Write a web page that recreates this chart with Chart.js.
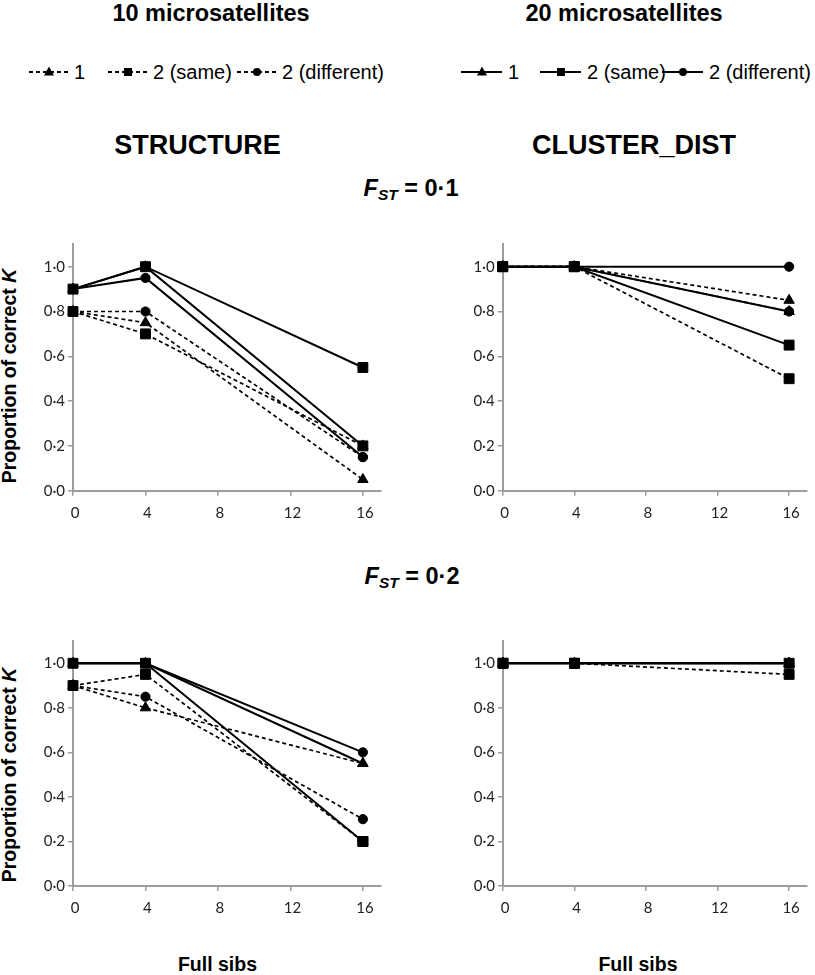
<!DOCTYPE html>
<html>
<head>
<meta charset="utf-8">
<script src="https://cdn.jsdelivr.net/npm/chart.js@4.4.1/dist/chart.umd.min.js"></script>
<style>
body{margin:0;background:#fff;font-family:"Liberation Sans",Arial,sans-serif;color:#000}
#page{position:relative;width:815px;height:975px;overflow:hidden}
.t{position:absolute;white-space:nowrap;line-height:1;transform:translate(-50%,-50%)}
.b{font-weight:bold}
.ytitle{transform:translate(-50%,-50%) rotate(-90deg);font-size:19.5px;font-weight:bold}
.fst{font-size:23.5px;font-weight:bold}
.fst sub{font-size:0.66em;vertical-align:-0.28em;font-style:italic}
canvas{position:absolute}
.item{position:absolute;top:72px;height:0;display:flex;align-items:center}
.samp{position:relative;height:2px}
.samp.dash{background:repeating-linear-gradient(90deg,#000 0 4px,transparent 4px 7px)}
.samp.solid{background:#000}
.mk{position:absolute;left:50%;top:50%;transform:translate(-50%,-50%);background:#000}
.mk.rect{width:8px;height:8px}
.mk.circle{width:8px;height:8px;border-radius:50%}
.mk.triangle{width:0;height:0;background:none;border-left:5px solid transparent;border-right:5px solid transparent;border-bottom:9px solid #000;transform:translate(-50%,-60%)}
.lab{font-size:20px;margin-left:6px;line-height:1;position:relative;top:0}
</style>
</head>
<body>
<div id="page">
  <div class="t b" style="left:211px;top:14px;font-size:23.5px">10 microsatellites</div>
  <div class="t b" style="left:624px;top:14px;font-size:23.5px">20 microsatellites</div>

  <div class="t b" style="left:197.5px;top:145px;font-size:27px">STRUCTURE</div>
  <div class="t b" style="left:634px;top:145px;font-size:27px">CLUSTER_DIST</div>

  <div class="t fst" style="left:411px;top:190px"><i>F</i><sub>ST</sub> = 0·1</div>
  <div class="t fst" style="left:412px;top:578px"><i>F</i><sub>ST</sub> = 0·2</div>

  <div class="t ytitle" style="left:10px;top:376px">Proportion of correct <i>K</i></div>
  <div class="t ytitle" style="left:10px;top:775px">Proportion of correct <i>K</i></div>

  <div class="t b" style="left:217.5px;top:965px;font-size:19.5px">Full sibs</div>
  <div class="t b" style="left:638px;top:965px;font-size:19.5px">Full sibs</div>

  <canvas id="tl" width="400" height="310" style="left:0;top:220px"></canvas>
  <canvas id="tr" width="405" height="310" style="left:410px;top:220px"></canvas>
  <canvas id="bl" width="400" height="310" style="left:0;top:620px"></canvas>
  <canvas id="br" width="405" height="310" style="left:410px;top:620px"></canvas>
</div>

<script>
const fullSibs = [0, 4, 16]
const xTickValues = [0, 4, 8, 12, 16]
const yTickValues = [0, 0.2, 0.4, 0.6, 0.8, 1.0]
const seriesLabels = ['1', '2 (same)', '2 (different)']
const seriesMarkers = ['triangle', 'rect', 'circle']

// STRUCTURE, FST = 0.1
const strFst1_ms10_one  = [0.80, 0.75, 0.05]
const strFst1_ms10_same = [0.80, 0.70, 0.20]
const strFst1_ms10_diff = [0.80, 0.80, 0.15]
const strFst1_ms20_one  = [0.90, 1.00, 0.20]
const strFst1_ms20_same = [0.90, 1.00, 0.55]
const strFst1_ms20_diff = [0.90, 0.95, 0.15]
// CLUSTER_DIST, FST = 0.1
const cluFst1_ms10_one  = [1.00, 1.00, 0.85]
const cluFst1_ms10_same = [1.00, 1.00, 0.50]
const cluFst1_ms10_diff = [1.00, 1.00, 0.80]
const cluFst1_ms20_one  = [1.00, 1.00, 0.80]
const cluFst1_ms20_same = [1.00, 1.00, 0.65]
const cluFst1_ms20_diff = [1.00, 1.00, 1.00]
// STRUCTURE, FST = 0.2
const strFst2_ms10_one  = [0.90, 0.80, 0.55]
const strFst2_ms10_same = [0.90, 0.95, 0.20]
const strFst2_ms10_diff = [0.90, 0.85, 0.30]
const strFst2_ms20_one  = [1.00, 1.00, 0.55]
const strFst2_ms20_same = [1.00, 1.00, 0.20]
const strFst2_ms20_diff = [1.00, 1.00, 0.60]
// CLUSTER_DIST, FST = 0.2
const cluFst2_ms10_one  = [1.00, 1.00, 1.00]
const cluFst2_ms10_same = [1.00, 1.00, 0.95]
const cluFst2_ms10_diff = [1.00, 1.00, 1.00]
const cluFst2_ms20_one  = [1.00, 1.00, 1.00]
const cluFst2_ms20_same = [1.00, 1.00, 1.00]
const cluFst2_ms20_diff = [1.00, 1.00, 1.00]

const markerRadius = {rect: 7, circle: 4.6, triangle: 6}
const axisGray = '#9c9c9c'

function line(label, vals, marker, dashed){
  return {
    label: label,
    data: fullSibs.map((x, i) => ({x: x, y: vals[i]})),
    borderColor: '#000',
    backgroundColor: '#000',
    borderWidth: dashed ? 1.7 : 2,
    borderDash: dashed ? [4, 3] : [],
    pointStyle: marker,
    pointRadius: markerRadius[marker],
    pointBorderWidth: 1,
    pointBorderColor: '#000',
    pointBackgroundColor: '#000',
    tension: 0,
    clip: false
  }
}

// squares first so they sit on top, then circles, then triangles
function panel(id, one10, same10, diff10, one20, same20, diff20, yW, padTop, padRight, xH){
  const sets = [
    line('2 (same)', same20, 'rect', false),
    line('2 (same)', same10, 'rect', true),
    line('2 (different)', diff10, 'circle', true),
    line('2 (different)', diff20, 'circle', false),
    line('1', one20, 'triangle', false),
    line('1', one10, 'triangle', true)
  ]
  new Chart(document.getElementById(id), {
    type: 'line',
    data: {datasets: sets},
    options: {
      responsive: false,
      animation: false,
      layout: {padding: {left: 0, top: padTop, right: padRight, bottom: 0}},
      plugins: {legend: {display: false}, tooltip: {enabled: false}},
      scales: {
        x: {
          type: 'linear', min: 0, max: 17,
          afterBuildTicks: s => { s.ticks = xTickValues.map(v => ({value: v})) },
          afterFit: s => { s.height = xH },
          grid: {drawOnChartArea: false, drawTicks: true, tickLength: 5, color: axisGray, lineWidth: 1.5},
          border: {color: axisGray, width: 2},
          ticks: {font: {family: 'Lato', size: 15}, color: '#222', padding: 8, maxRotation: 0, autoSkip: false, labelOffset: 2}
        },
        y: {
          min: 0, max: 1.1,
          afterBuildTicks: s => { s.ticks = yTickValues.map(v => ({value: v})) },
          afterFit: s => { s.width = yW },
          grid: {drawOnChartArea: false, drawTicks: true, tickLength: 5, color: axisGray, lineWidth: 1.5},
          border: {color: axisGray, width: 2},
          ticks: {font: {family: 'Lato', size: 15}, color: '#222', padding: 3,
            callback: v => v.toFixed(1).replace('.', '\u00B7')}
        }
      }
    }
  })
}

panel('tl', strFst1_ms10_one, strFst1_ms10_same, strFst1_ms10_diff, strFst1_ms20_one, strFst1_ms20_same, strFst1_ms20_diff, 73, 24.3, 19, 39.3)
panel('tr', cluFst1_ms10_one, cluFst1_ms10_same, cluFst1_ms10_diff, cluFst1_ms20_one, cluFst1_ms20_same, cluFst1_ms20_diff, 92.7, 24.3, 4.2, 39.3)
panel('bl', strFst2_ms10_one, strFst2_ms10_same, strFst2_ms10_diff, strFst2_ms20_one, strFst2_ms20_same, strFst2_ms20_diff, 73, 21, 19, 44)
panel('br', cluFst2_ms10_one, cluFst2_ms10_same, cluFst2_ms10_diff, cluFst2_ms20_one, cluFst2_ms20_same, cluFst2_ms20_diff, 93, 21, 4, 44)

// legends (html, one row per marker group)
function legend(lefts, width, kind){
  const page = document.getElementById('page')
  for(let i = 0; i < seriesLabels.length; i++){
    const item = document.createElement('div')
    item.className = 'item'
    item.style.left = lefts[i] + 'px'
    item.innerHTML = '<div class="samp ' + kind + '" style="width:' + width + 'px"><div class="mk ' + seriesMarkers[i] + '"></div></div>'
      + '<span class="lab">' + seriesLabels[i] + '</span>'
    page.appendChild(item)
  }
}
legend([29, 108, 237], 39, 'dash')
legend([461, 540, 662], 41, 'solid')
</script>
</body>
</html>
